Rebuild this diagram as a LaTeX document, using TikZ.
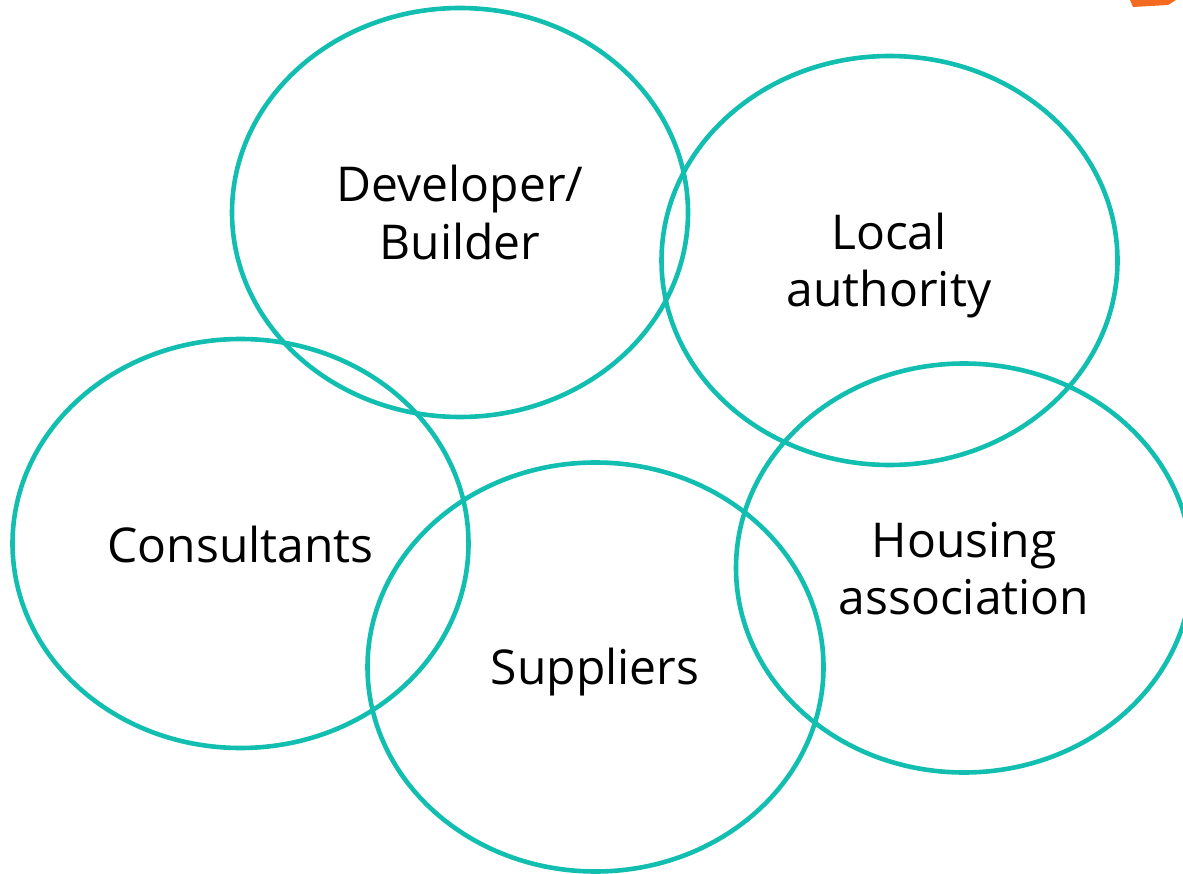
\documentclass[tikz,border=0pt]{standalone}
\usepackage{fontspec}
\setmainfont{Open Sans}
\usetikzlibrary{shapes.geometric}
\definecolor{ringteal}{RGB}{18,190,176}
\definecolor{cornerorange}{RGB}{242,107,33}
\begin{document}
\begin{tikzpicture}[x=1pt,y=-1pt,
  ring/.style={draw=ringteal, line width=4.6pt, ellipse, minimum width=456pt, minimum height=409pt, inner sep=0pt},
  lbl/.style={font=\fontsize{48}{56}\selectfont, anchor=base, inner sep=0pt, text=black}]
\useasboundingbox (0,0) rectangle (1183,874);
\clip (0,0) rectangle (1183,874);
\fill[cornerorange] (1130,0) -- (1176,0) -- (1168,5) -- (1133,7) -- cycle;
\node[ring] (dev) at (460,212.5) {};
\node[ring] (loc) at (889.5,260.5) {};
\node[ring] (con) at (240.5,543.5) {};
\node[ring] (sup) at (595.5,667) {};
\node[ring] (hou) at (964,568) {};
\node[lbl] (devA) at (460,202) {Developer/};
\node[lbl] (devB) at (460,260) {Builder};
\node[lbl] (locA) at (889,250) {Local};
\node[lbl] (locB) at (889,307) {authority};
\node[lbl] (conA) at (240.5,562) {Consultants};
\node[lbl] (supA) at (595,684) {Suppliers};
\node[lbl] (houA) at (964,557) {Housing};
\node[lbl] (houB) at (964,614) {association};
\end{tikzpicture}
\end{document}
